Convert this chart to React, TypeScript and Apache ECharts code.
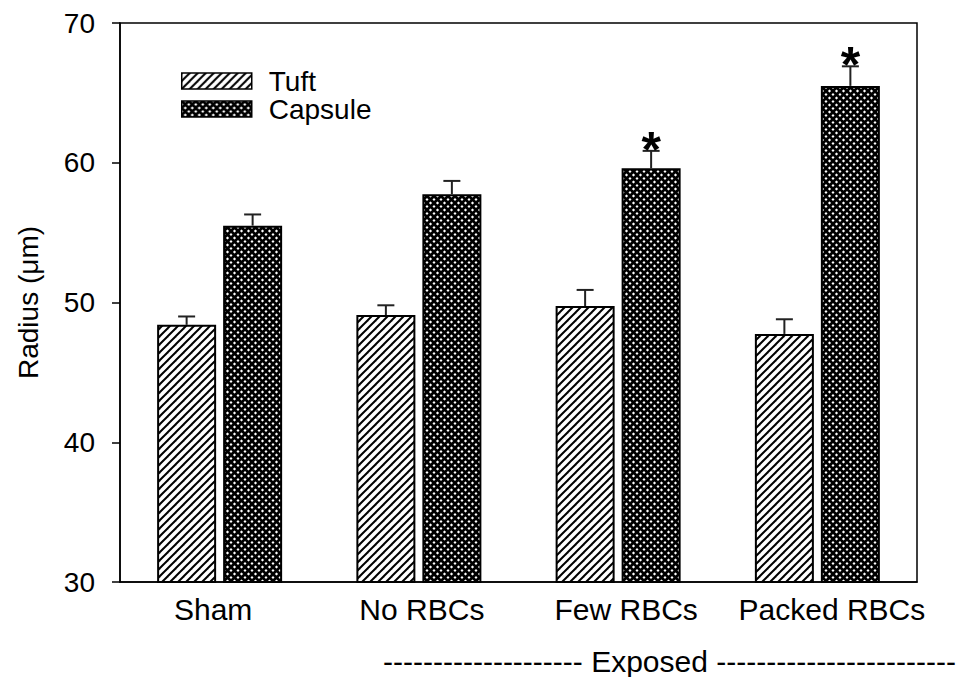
import React, { useEffect, useRef } from "react";
import * as echarts from "echarts";

const CATEGORIES = ["Sham", "No RBCs", "Few RBCs", "Packed RBCs"];
const TUFT = [48.4, 49.1, 49.75, 47.75];
const TUFT_ERR = [0.6, 0.7, 1.15, 1.05];
const CAPSULE = [55.5, 57.75, 59.6, 65.5];
const CAPSULE_ERR = [0.8, 0.95, 1.25, 1.4];
const CAPSULE_SIG = [false, false, true, true];
const Y_MIN = 30;
const Y_MAX = 70;
const Y_STEP = 10;

const FONT = "'Liberation Sans', Arial, Helvetica, sans-serif";
const BAR_W = 59;
const BAR_GAP_PX = 7;
const LABEL_SHIFT = [-6.5, 3, 8, 14.5];

function makeHatch(size: number, lineW: number) {
  const c = document.createElement("canvas");
  c.width = size;
  c.height = size;
  const g = c.getContext("2d")!;
  g.fillStyle = "#fff";
  g.fillRect(0, 0, size, size);
  g.strokeStyle = "#000";
  g.lineWidth = lineW;
  for (const k of [-size, 0, size]) {
    g.beginPath();
    g.moveTo(-size + k, 2 * size);
    g.lineTo(2 * size + k, -size);
    g.stroke();
  }
  return c;
}

function makeCross(size: number, lineW: number) {
  const c = document.createElement("canvas");
  c.width = size;
  c.height = size;
  const g = c.getContext("2d")!;
  g.fillStyle = "#fff";
  g.fillRect(0, 0, size, size);
  g.strokeStyle = "#000";
  g.lineWidth = lineW;
  for (const k of [-size, 0, size]) {
    g.beginPath();
    g.moveTo(-size + k, -size);
    g.lineTo(2 * size + k, 2 * size);
    g.stroke();
    g.beginPath();
    g.moveTo(-size + k, 2 * size);
    g.lineTo(2 * size + k, -size);
    g.stroke();
  }
  return c;
}

export default function App() {
  const ref = useRef<HTMLDivElement>(null);
  useEffect(() => {
    if (!ref.current) return;
    const chart = echarts.init(ref.current, null, { renderer: "svg" });
    const hatch = makeHatch(8, 2);
    const cross = makeCross(7, 2.7);
    const tuftFill: any = { image: hatch, repeat: "repeat", imageWidth: 8, imageHeight: 8 };
    const capFill: any = { image: cross, repeat: "repeat", imageWidth: 7, imageHeight: 7 };
    const offset = (BAR_W + BAR_GAP_PX) / 2;

    const errSeries = (vals: number[], errs: number[], sig: boolean[], dx: number) => ({
      type: "custom",
      z: 5,
      silent: true,
      data: vals.map((v, i) => [i, v, errs[i], sig[i] ? 1 : 0]),
      encode: { x: 0, y: 1 },
      renderItem: (params: any, api: any) => {
        const i = api.value(0);
        const v = api.value(1);
        const e = api.value(2);
        const s = api.value(3);
        const p0 = api.coord([i, v]);
        const p1 = api.coord([i, v + e]);
        const x = p0[0] + dx;
        const children: any[] = [
          { type: "line", shape: { x1: x, y1: p0[1], x2: x, y2: p1[1] }, style: { stroke: "#222", lineWidth: 2 } },
          { type: "line", shape: { x1: x - 8.5, y1: p1[1], x2: x + 8.5, y2: p1[1] }, style: { stroke: "#222", lineWidth: 2 } },
        ];
        if (s) {
          children.push({
            type: "text",
            style: {
              text: "*",
              x: x,
              y: p1[1] - 1,
              align: "center",
              verticalAlign: "middle",
              fill: "#000",
              font: `bold 50px ${FONT}`,
            },
          });
        }
        return { type: "group", children };
      },
    });

    const rich: any = {};
    LABEL_SHIFT.forEach((s, i) => {
      rich["l" + i] = {
        fontSize: 30,
        fontFamily: FONT,
        color: "#000",
        padding: s >= 0 ? [0, 0, 0, 2 * s] : [0, -2 * s, 0, 0],
      };
    });

    chart.setOption({
      animation: false,
      backgroundColor: "#fff",
      grid: {
        left: 120,
        right: 46,
        top: 23,
        bottom: 95,
        show: true,
        borderColor: "#000",
        borderWidth: 1.5,
        backgroundColor: "transparent",
      },
      legend: {
        data: ["Tuft", "Capsule"],
        orient: "vertical",
        left: 181,
        top: 67,
        padding: 0,
        itemWidth: 70,
        itemHeight: 16,
        itemGap: 0,
        icon: "rect",
        selectedMode: false,
        itemStyle: { borderColor: "#000", borderWidth: 1.5 },
        textStyle: { fontSize: 28, lineHeight: 28, fontFamily: FONT, color: "#000", padding: [0, 0, 0, 12] },
      },
      xAxis: {
        type: "category",
        data: CATEGORIES,
        axisLine: { show: true, lineStyle: { color: "#000", width: 1.5 } },
        axisTick: { show: false },
        axisLabel: {
          margin: 12,
          interval: 0,
          formatter: (val: string, idx: number) => `{l${idx}|${val}}`,
          rich,
        },
      },
      yAxis: {
        type: "value",
        min: Y_MIN,
        max: Y_MAX,
        interval: Y_STEP,
        name: "Radius (μm)",
        nameLocation: "middle",
        nameRotate: 90,
        nameGap: 78,
        nameTextStyle: { fontSize: 28, fontFamily: FONT, color: "#000" },
        axisLine: { show: true, lineStyle: { color: "#000", width: 1.5 } },
        axisTick: { show: true, inside: false, length: 8, lineStyle: { color: "#000", width: 1.5 } },
        axisLabel: { margin: 25, fontSize: 28, fontFamily: FONT, color: "#000" },
        splitLine: { show: false },
      },
      series: [
        {
          name: "Tuft",
          type: "bar",
          data: TUFT,
          barWidth: BAR_W,
          barGap: (BAR_GAP_PX / BAR_W) * 100 + "%",
          itemStyle: { color: tuftFill, borderColor: "#000", borderWidth: 2 },
        },
        {
          name: "Capsule",
          type: "bar",
          data: CAPSULE,
          barWidth: BAR_W,
          barGap: (BAR_GAP_PX / BAR_W) * 100 + "%",
          itemStyle: { color: capFill, borderColor: "#000", borderWidth: 2 },
        },
        errSeries(TUFT, TUFT_ERR, [false, false, false, false], -offset),
        errSeries(CAPSULE, CAPSULE_ERR, CAPSULE_SIG, offset),
      ],
      graphic: [
        {
          type: "text",
          left: 383,
          top: 646,
          silent: true,
          style: {
            text: "-------------------- Exposed ------------------------",
            font: `30px ${FONT}`,
            fill: "#000",
          },
        },
      ],
    });
    return () => chart.dispose();
  }, []);
  return (
    <div
      ref={ref}
      style={{ position: "fixed", left: 0, top: 0, width: 963, height: 677, background: "#fff" }}
    />
  );
}
